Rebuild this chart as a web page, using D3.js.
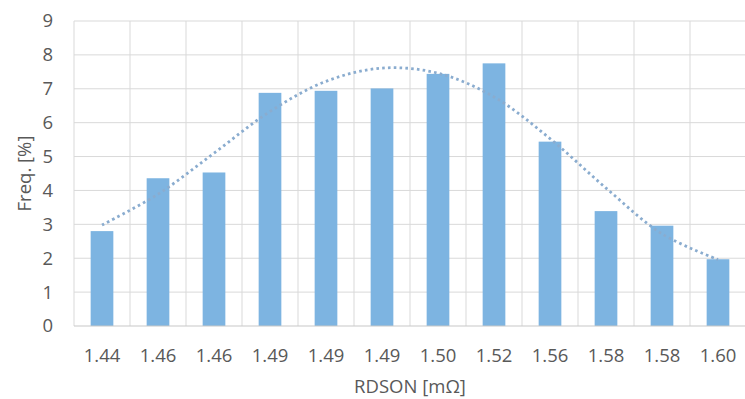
<!DOCTYPE html>
<html>
<head>
<meta charset="utf-8">
<script src="https://cdn.jsdelivr.net/npm/d3@7"></script>
<style>
  html, body { margin: 0; padding: 0; background: #ffffff; }
  svg { display: block; font-family: "Open Sans", "Liberation Sans", sans-serif; }
</style>
</head>
<body>
<svg id="chart" width="745" height="399"></svg>
<script>
// RDSON histogram: bin labels, frequency per bin and the fitted trend
const categories = ["1.44", "1.46", "1.46", "1.49", "1.49", "1.49", "1.50", "1.52", "1.56", "1.58", "1.58", "1.60"];
const frequency = [2.80, 4.36, 4.53, 6.88, 6.94, 7.01, 7.44, 7.75, 5.44, 3.39, 2.96, 1.97];
const trend = [2.98, 3.89, 5.10, 6.33, 7.22, 7.61, 7.46, 6.76, 5.53, 4.07, 2.72, 1.96];
const yTicks = [0, 1, 2, 3, 4, 5, 6, 7, 8, 9];

const svg = d3.select("#chart");
const margin = { left: 74, right: -1, top: 21, bottom: 73 };
const W = 745, H = 399;
const x0 = margin.left, x1 = W - margin.right;
const y0 = H - margin.bottom, y1 = margin.top;

const idx = categories.map((_, i) => i);
const x = d3.scaleBand().domain(idx).range([x0, x1]).padding(0);
const y = d3.scaleLinear().domain([0, 9]).range([y0, y1]);

const textColor = "#595959";
const gridColor = "#d9d9d9";

// horizontal gridlines
svg.append("g")
  .selectAll("line")
  .data(yTicks.filter(d => d > 0))
  .join("line")
  .attr("x1", x0).attr("x2", x1)
  .attr("y1", d => y(d)).attr("y2", d => y(d))
  .attr("stroke", gridColor).attr("stroke-width", 1);

// vertical gridlines at category boundaries
svg.append("g")
  .selectAll("line")
  .data(idx.concat([categories.length]))
  .join("line")
  .attr("x1", i => i < categories.length ? x(i) : x1)
  .attr("x2", i => i < categories.length ? x(i) : x1)
  .attr("y1", y(9)).attr("y2", y(0))
  .attr("stroke", gridColor).attr("stroke-width", 1);

// bars
const barW = x.bandwidth() * 0.405;
svg.append("g")
  .selectAll("rect")
  .data(frequency)
  .join("rect")
  .attr("x", (d, i) => x(i) + x.bandwidth() / 2 - barW / 2)
  .attr("y", d => y(d))
  .attr("width", barW)
  .attr("height", d => y(0) - y(d))
  .attr("fill", "#7db4e1");

// baseline
svg.append("line")
  .attr("x1", x0).attr("x2", x1)
  .attr("y1", y(0)).attr("y2", y(0))
  .attr("stroke", "#c8c8c8").attr("stroke-width", 1.2);

// dotted trend line
const line = d3.line()
  .x((d, i) => x(i) + x.bandwidth() / 2)
  .y(d => y(d))
  .curve(d3.curveCatmullRom.alpha(0.5));
svg.append("path")
  .datum(trend)
  .attr("d", line)
  .attr("fill", "none")
  .attr("stroke", "#8aaccf")
  .attr("stroke-width", 2.8)
  .attr("stroke-dasharray", "2.6,3.2");

// y axis labels
svg.append("g")
  .selectAll("text")
  .data(yTicks)
  .join("text")
  .attr("x", 53)
  .attr("y", d => y(d))
  .attr("dy", "0.35em")
  .attr("text-anchor", "end")
  .attr("fill", textColor)
  .attr("font-size", 18.5)
  .text(d => d);

// x axis labels
svg.append("g")
  .selectAll("text")
  .data(categories)
  .join("text")
  .attr("x", (d, i) => x(i) + x.bandwidth() / 2)
  .attr("y", 362)
  .attr("text-anchor", "middle")
  .attr("fill", textColor)
  .attr("font-size", 18.5)
  .text(d => d);

// axis titles
svg.append("text")
  .attr("x", (x0 + x1) / 2)
  .attr("y", 393)
  .attr("text-anchor", "middle")
  .attr("fill", textColor)
  .attr("font-size", 18.5)
  .text("RDSON [mΩ]");

svg.append("text")
  .attr("transform", `translate(31, ${(y0 + y1) / 2}) rotate(-90)`)
  .attr("text-anchor", "middle")
  .attr("fill", textColor)
  .attr("font-size", 18.5)
  .text("Freq. [%]");
</script>
</body>
</html>
